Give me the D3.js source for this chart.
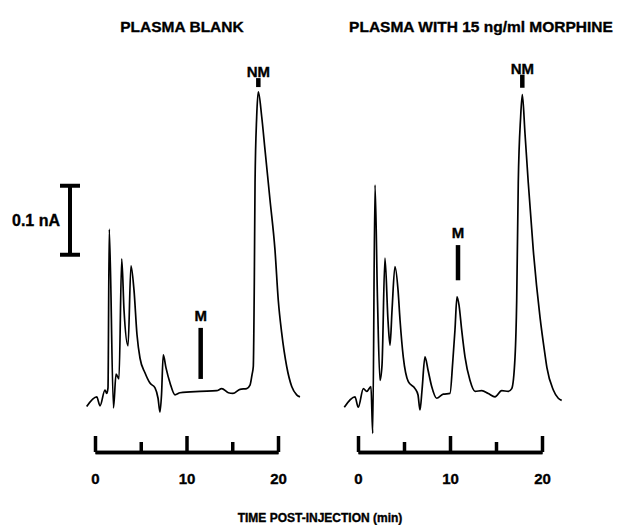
<!DOCTYPE html>
<html>
<head>
<meta charset="utf-8">
<script src="https://cdn.jsdelivr.net/npm/d3@7"></script>
<style>
  body { margin: 0; background: #fff; }
  svg text { font-family: "Liberation Sans", Arial, sans-serif; font-weight: bold; fill: #000; stroke: #000; stroke-width: 0.35px; }
</style>
</head>
<body>
<div id="chart"></div>
<script>
// time (min) and detector current (nA)
var blankTime = [-0.91, 0.19, 0.55, 1.09, 1.28, 1.42, 1.56, 2.02, 2.30, 2.62, 2.92, 3.17, 3.61, 3.93, 4.26, 4.59, 4.92, 5.46, 6.01, 6.56, 6.89, 7.10, 7.27, 7.46, 7.76, 8.20, 8.74, 9.29, 11.48, 13.30, 13.85, 14.57, 15.08, 15.85, 16.58, 16.94, 17.16, 17.30, 17.41, 17.49, 17.67, 17.85, 18.22, 18.58, 19.13, 19.67, 20.03, 20.40, 20.95, 21.50, 22.04, 22.40];
var blankSignal = [0.005, 0.019, 0.006, 0.029, 0.024, 0.032, 0.262, 0.003, 0.052, 0.045, 0.219, 0.145, 0.093, 0.209, 0.174, 0.109, 0.075, 0.054, 0.039, 0.032, 0.017, -0.003, 0.022, 0.080, 0.061, 0.039, 0.022, 0.025, 0.027, 0.028, 0.031, 0.025, 0.024, 0.030, 0.031, 0.036, 0.051, 0.063, 0.184, 0.329, 0.425, 0.461, 0.425, 0.377, 0.304, 0.232, 0.159, 0.112, 0.063, 0.034, 0.022, 0.019];

var morphTime = [-1.49, -0.33, 0.03, 0.58, 0.95, 1.41, 1.60, 1.85, 2.12, 2.39, 2.61, 2.93, 3.26, 3.48, 3.70, 4.02, 4.35, 4.57, 4.92, 5.47, 6.20, 6.52, 6.74, 6.96, 7.28, 7.61, 8.01, 8.55, 9.27, 10.00, 10.29, 10.54, 10.76, 10.98, 11.27, 11.63, 12.17, 12.72, 13.45, 14.16, 14.89, 15.62, 16.34, 16.71, 17.07, 17.25, 17.42, 17.68, 17.86, 18.15, 18.51, 19.05, 19.78, 20.33, 20.54, 21.23, 21.77, 22.14];
var morphSignal = [0.004, 0.019, 0.004, 0.031, 0.027, 0.034, -0.034, 0.326, 0.159, 0.043, 0.065, 0.220, 0.130, 0.094, 0.145, 0.208, 0.174, 0.130, 0.077, 0.041, 0.031, 0.022, 0.000, 0.029, 0.077, 0.058, 0.034, 0.017, 0.023, 0.024, 0.068, 0.116, 0.164, 0.152, 0.116, 0.077, 0.043, 0.027, 0.028, 0.024, 0.019, 0.028, 0.027, 0.031, 0.077, 0.159, 0.329, 0.425, 0.457, 0.401, 0.329, 0.232, 0.135, 0.080, 0.061, 0.029, 0.017, 0.014];

var panelTitles = ["PLASMA BLANK", "PLASMA WITH 15 ng/ml MORPHINE"];
var majorTicks = [0, 10, 20];
var minorTicks = [5, 15];

// peak markers: label, time, bar from lo to hi (nA)
var blankMarkers = [
  { label: "M", t: 11.55, lo: 0.045, hi: 0.119 },
  { label: "NM", t: 17.85, lo: 0.468, hi: 0.481 }
];
var morphMarkers = [
  { label: "M", t: 10.87, lo: 0.188, hi: 0.239 },
  { label: "NM", t: 17.86, lo: 0.467, hi: 0.486 }
];

var scaleBarBase = 0.225, scaleBarValue = 0.1;
var xTitle = "TIME POST-INJECTION (min)";

var W = 628, H = 525;
var svg = d3.select("#chart").append("svg")
  .attr("width", W)
  .attr("height", H);

var y = d3.scaleLinear().domain([0, 0.5]).range([410, 65]);

var panels = [
  { x: d3.scaleLinear().domain([0, 20]).range([95, 278]), time: blankTime, signal: blankSignal, markers: blankMarkers, title: panelTitles[0], titleX: 182 },
  { x: d3.scaleLinear().domain([0, 20]).range([358, 542]), time: morphTime, signal: morphSignal, markers: morphMarkers, title: panelTitles[1], titleX: 481 }
];

var line = d3.line().curve(d3.curveMonotoneX);

panels.forEach(function(p){
  var pts = p.time.map(function(t, i){ return [p.x(t), y(p.signal[i])]; });

  svg.append("path")
    .attr("d", line(pts))
    .attr("fill", "none")
    .attr("stroke", "#000")
    .attr("stroke-width", 1.7)
    .attr("stroke-linejoin", "round");

  // axis bracket
  var major = d3.axisBottom(p.x).tickValues(majorTicks).tickSize(-16).tickSizeOuter(0).tickPadding(21).tickFormat(d3.format("d"));
  var minor = d3.axisBottom(p.x).tickValues(minorTicks).tickSize(-10).tickSizeOuter(0).tickFormat("");
  var gMajor = svg.append("g").attr("transform", "translate(0,452)").call(major);
  var gMinor = svg.append("g").attr("transform", "translate(0,452)").call(minor);
  [gMajor, gMinor].forEach(function(g){
    g.select(".domain").attr("stroke", "#000").attr("stroke-width", 3.5);
    g.selectAll(".tick line").attr("stroke", "#000").attr("stroke-width", 3.5);
  });
  gMajor.selectAll(".tick text")
    .attr("font-size", 15)
    .attr("font-family", "Liberation Sans, Arial, sans-serif")
    .attr("font-weight", "bold")
    .attr("fill", "#000");

  // peak markers
  p.markers.forEach(function(m){
    svg.append("line")
      .attr("x1", p.x(m.t)).attr("x2", p.x(m.t))
      .attr("y1", y(m.lo)).attr("y2", y(m.hi))
      .attr("stroke", "#000")
      .attr("stroke-width", 4.5);
    svg.append("text")
      .attr("x", p.x(m.t))
      .attr("y", y(m.hi) - (m.label === "NM" ? 1 : 7))
      .attr("text-anchor", "middle")
      .attr("font-size", 15)
      .text(m.label);
  });

  svg.append("text")
    .attr("x", p.titleX)
    .attr("y", 32)
    .attr("text-anchor", "middle")
    .attr("font-size", 15.5)
    .text(p.title);
});

// 0.1 nA scale bar
var sbX = 70, sbTop = y(scaleBarBase + scaleBarValue), sbBot = y(scaleBarBase);
svg.append("line").attr("x1", sbX).attr("x2", sbX).attr("y1", sbTop).attr("y2", sbBot)
  .attr("stroke", "#000").attr("stroke-width", 4);
[sbTop, sbBot].forEach(function(yy){
  svg.append("line").attr("x1", sbX - 10).attr("x2", sbX + 10).attr("y1", yy).attr("y2", yy)
    .attr("stroke", "#000").attr("stroke-width", 4);
});
svg.append("text")
  .attr("x", 60).attr("y", (sbTop + sbBot) / 2 + 6)
  .attr("text-anchor", "end")
  .attr("font-size", 16)
  .text("0.1 nA");

svg.append("text")
  .attr("x", 320).attr("y", 522)
  .attr("text-anchor", "middle")
  .attr("font-size", 12)
  .text(xTitle);
</script>
</body>
</html>
